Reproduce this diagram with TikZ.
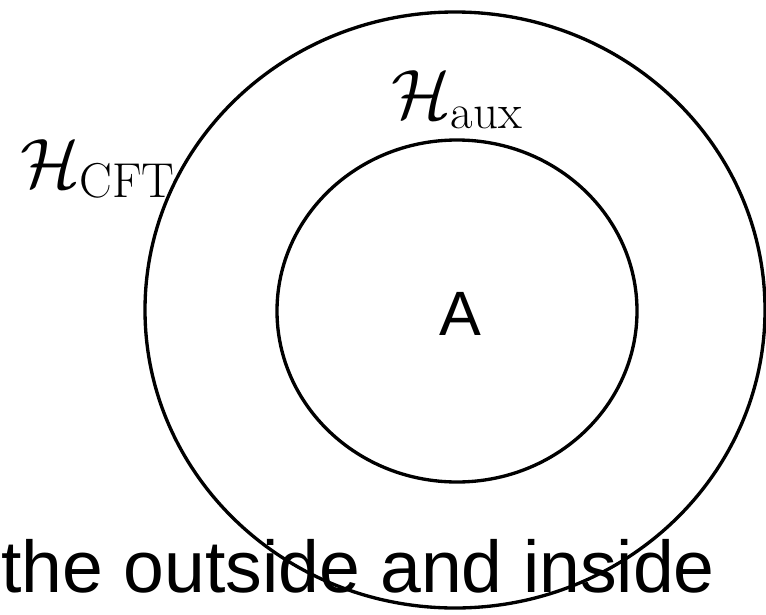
\RequirePackage{fix-cm}
\documentclass[tikz,border=0pt]{standalone}
\usepackage{fontspec}
\newfontfamily\arialf{Liberation Sans}
\begin{document}
\begin{tikzpicture}[x=0.75pt,y=-0.75pt,
  ring/.style={draw=black, line width=2.5pt},
  mathlbl/.style={inner sep=0pt, font=\fontsize{52.5}{60}\selectfont},
  letterlbl/.style={inner sep=0pt, font=\arialf\fontsize{47}{54}\selectfont},
  captionlbl/.style={inner sep=0pt, font=\arialf\fontsize{55}{62}\selectfont}]
\useasboundingbox (0,0) rectangle (766,614);
\draw[ring] (455,310) ellipse [x radius=310, y radius=298];
\draw[ring] (457,311) ellipse [x radius=180, y radius=171];
\node[mathlbl, anchor=base] (haux) at (457,118) {$\mathcal{H}_{\mathrm{aux}}$};
\node[mathlbl, anchor=base] (hcft) at (98,187) {$\mathcal{H}_{\mathrm{CFT}}$};
\node[letterlbl, anchor=base] (a) at (460,335) {A};
\node[captionlbl, anchor=base west] (cap) at (1,592) {the outside and inside};
\end{tikzpicture}
\end{document}
